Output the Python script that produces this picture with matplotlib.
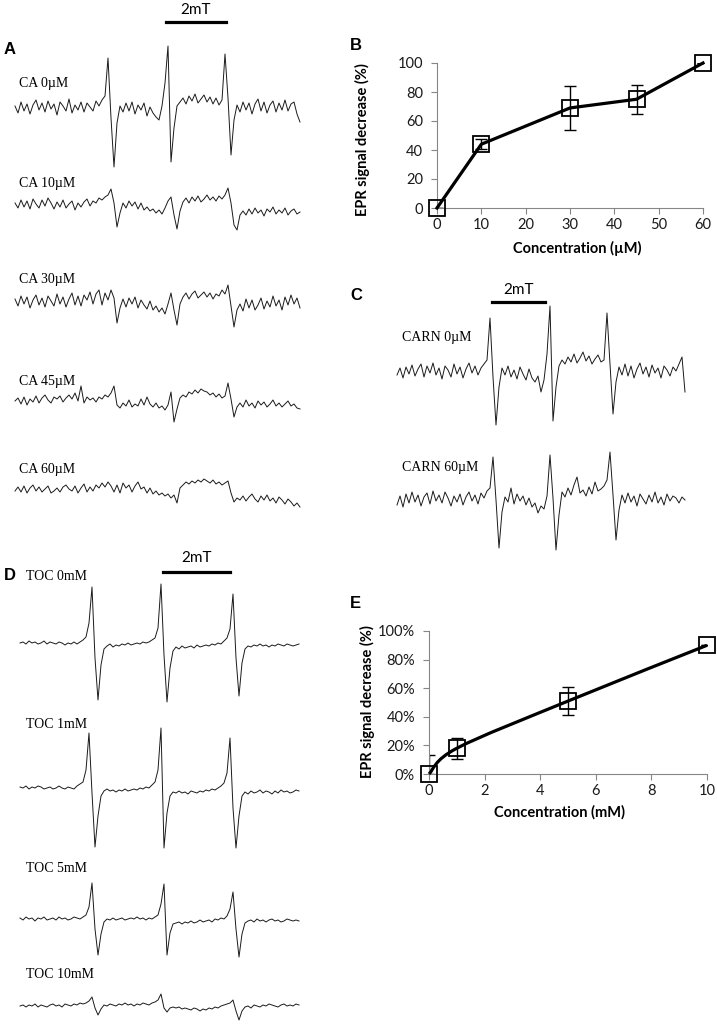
import numpy as np
import matplotlib
matplotlib.use('Agg')
import matplotlib.pyplot as plt
from matplotlib.path import Path
from matplotlib.patches import PathPatch
from matplotlib.ticker import PercentFormatter

plt.rcParams.update({
    'font.family': 'Lato',
    'font.size': 10,
})

W, H = 717, 1026

# ---- EPR traces (amplitude, ~3 px per sample, + = up) ----
ca_0 = [2, -5, 6, -3, 4, -6, 3, 8, -2, 5, -4, 7, -1, 4, -7, 6, 2, -3, 9, -5, 3, -2, 6, -4, 5, 1, -3, 7, 2, 8, 12,
        50, -10, -59, -15,
        2, -4, 5, -3, 6, -6, 3, -2, 5, -8, 1, -5, -9, -12, 2,
        25, 62, -54, -20,
        2, 6, 10, 4, 12, 7, 14, 5, 9, 13, 6, 11, 4, 10, 3, 8,
        54, 10, -47, -12,
        3, -4, 6, -2, 5, -6, 4, 9, -3, 6, -5, 3, 7, -4, 5, -2, 8, -3, 4, 6, -6, -14]
ca_10 = [2, -3, 5, -2, 4, -4, 6, 1, -3, 5, -1, 7, 2, -4, 3, -2, 5, -3, 1, 4, -5, 2, -2, 3, 6, -1, 4, 2, 7, 5, 8,
         10, 16, 2, -22, -8,
         2, -3, 4, -1, 3, -4, 2, -5, -2, -6, -4, -8, -5, -9, -3,
         4, 8, -10, -24, -6,
         3, 7, 2, 8, 4, 9, 3, 6, 10, 5, 8, 4, 9, 6,
         10, 17, 2, -20, -25, -10,
         -6, -10, -4, -9, -3, -8, -5, -11, -4, -7, -2, -9, -5, -8, -3, -10, -6, -4, -9, -7]
ca_30 = [3, -4, 6, -2, 5, -6, 2, 7, -3, 4, -5, 6, 1, -4, 8, -2, 5, -5, 3, 9, -3, 6, -4, 7, 2, 10, -2, 8, 12, -3, 9,
         2, 12, 4, -21, -6,
         3, -5, 4, -2, 5, -6, 2, -3, -7, 1, -8, -4, -10, -6, -12, -2,
         9, -8, -23, -2,
         5, 9, 3, 8, 11, 4, 7, 10, 5, 9, 3, 8, 6, 12,
         8, 17, -4, -25, -8,
         -2, -9, 3, -6, 2, -8, -3, 4, -7, 1, -5, 6, -4, 2, -8, 5, -3, 7, -2, 4, -6]
ca_45 = [0, 3, -3, 4, -4, 2, -1, 5, -2, 3, 6, 1, -2, 4, 2, 5, -1, 3, 6, 2, 8, 0, 15, -2, 4, 1, 3, -1, 4, 2, 6,
         4, 8, 15, -4, -7,
         -2, -5, 1, -6, -3, -5, 2, -4, 4, -3, -6, -2, -7, -5, -9, -4,
         9, -21, -8, 3,
         6, 4, 9, 7, 11, 8, 12, 10, 9, 6, 8, 4, 7, 3, 5,
         18, 2, -16, -6,
         -2, -6, 1, -5, -2, -7, 0, -4, -1, -6, -3, 1, -5, -2, -6, -3, 0, -5, -3, -7, -8]
ca_60 = [-1, 3, -2, 4, -3, 2, 5, -1, 3, -2, 1, 4, -3, -1, 2, -2, 3, 5, 1, -1, 4, -3, 2, 6, -2, 3, -1, 5, 2, 7, 3,
         8, 4, -2, 5, -3,
         7, 2, 5, -2, 4, 8, 1, 3, -3, 2, -4, -1, -5, -3, -6, -4, -8,
         -5, -13, 2,
         5, 8, 6, 9, 7, 10, 8, 11, 9, 7, 10, 6, 8, 5, 7, 9,
         -3, -12,
         -8, -10, -6, -11, -7, -4, -9, -12, -6, -10, -5, -11, -8, -13, -7, -10, -14, -9, -12, -16, -13, -17]

carn_0 = [-3, 4, -6, 5, -2, 7, -4, 3, 8, -5, 6, -1, 9, -3, 4, -7, 6, 2, -5, 8, -2, 5, -6, 3, 9, -1, 6, -3, 4, 8, 12,
          54, -5, -53, -15,
          4, -3, 6, -5, 2, -7, 5, -2, -8, 3, -6, -10, -4, -20, -8,
          18, 66, -49, -15,
          6, 12, 8, 15, 10, 18, 9, 14, 20, 11, 16, 8, 13, 17, 10, 12,
          59, 8, -42, -10,
          5, -3, 8, -4, 6, -6, 3, 9, -2, 5, -5, 7, -1, 4, -6, 6, 2, -4, 5, 1, 8, 15, -20]
carn_60 = [-5, 4, -7, 6, -3, 8, -2, 5, -6, 3, 7, -4, 9, -1, 5, -3, 8, 2, -6, 4, -2, 6, -5, 3, 8, -1, 5, -4, 7, 2, 9, 12,
           43, 0, -48, -12,
           3, -2, 12, -4, 6, -1, 4, -5, 2, -7, -3, -13, -6, -9, 4,
           45, 2, -50, -15,
           8, 3, 12, 5, 15, 23, 7, 10, 4, 13, 6, 18, 9, 11, 14, 20,
           48, 5, -40, -10,
           5, -3, 7, -2, 4, -6, 6, 1, -4, 5, -2, 8, -3, 3, -5, 6, -1, 4, 2, -3, 3, 0]

toc_0 = [0, 1, -1, 2, 0, 1, -1, 0, 2, -1, 1, 0, -1, 1, 0, -2, 0, -1, 1, -1, 1, 3,
         6, 20, 56, -15, -57, -22, -6,
         -3, -1, -4, -2, -3, -1, -2, 0, -2, -1, 0, -1, 1, 0, 1, 3,
         5, 15, 59, -12, -59, -25, -8,
         -4, -6, -3, -5, -4, -3, -5, -2, -4, -3, -2, -3, -1, -2, 0, -1, 2,
         5, 14, 49, -15, -53, -20, -6,
         -3, -4, -2, -3, -1, -3, -2, -4, -2, -3, -1, -2, -3, -1, -2, -3, -2, -1]
toc_1 = [1, 0, 2, -1, 1, 0, 2, 1, -1, 0, 1, -1, 0, 2, 0, -1, 1, 0, -1, 2, 4,
         6, 18, 55, -5, -59, -28, -8,
         -3, -1, -3, -2, -4, -2, -3, -1, -3, -2, -1, -2, 0, -1, 1, 0, 3,
         6, 18, 60, -60, -25, -8,
         -4, -5, -3, -5, -4, -6, -3, -4, -5, -3, -4, -2, -3, -1, -2, 0, 2,
         5, 15, 50, -20, -60, -28, -8,
         -4, -6, -3, -5, -4, -2, -5, -3, -4, -6, -3, -5, -2, -4, -3, -5, -4, -2, -3]
toc_5 = [1, -1, 2, 0, 1, -2, 1, 0, 2, -1, 0, 1, -1, 2, 0, 1, -1, 0, 2, 1, 0, 2,
         4, 12, 36, -10, -36, -15, -3,
         0, -1, 1, -1, 0, 1, -1, 0, 1, 0, 2, 0, 1, -1, 1, 0, 2,
         4, 15, 35, -36, -14, -5,
         -4, -3, -5, -3, -4, -2, -4, -3, -1, -3, -2, -1, -3, 0, -1, 1, 0,
         3, 10, 27, -10, -38, -15, -4,
         -2, -1, -3, 0, -2, -1, -3, -1, 0, -2, -1, -3, -2, 0, -1, -2, -1, -2]
toc_10 = [0, 1, -1, 1, 0, 2, -1, 1, 0, -1, 1, 2, 0, 1, -1, 2, 1, 0, 2, 1, 3, 2, 3,
          5, 9, -2, -9, -3,
          1, 0, 2, 1, 0, 2, 1, 3, 1, 2, 0, 2, 1, 3, 2, 1, 3, 4,
          6, 12, -2, -6, -2,
          -1, -2, -1, -3, -2, -3, -4, -2, -3, -5, -3, -4, -2, -3, -1, -2, 0, 1, 2,
          3, 6, -5, -14, -5,
          -1, 0, -2, 1, 0, -1, 1, 0, 2, 1, 0, -1, 1, 2, 0, 1, 0, 2, 1]

ca_labels = ['CA 0\u00b5M', 'CA 10\u00b5M', 'CA 30\u00b5M', 'CA 45\u00b5M', 'CA 60\u00b5M']
carn_labels = ['CARN 0\u00b5M', 'CARN 60\u00b5M']
toc_labels = ['TOC 0mM', 'TOC 1mM', 'TOC 5mM', 'TOC 10mM']

# ---- dose-response data ----
b_conc = [0, 10, 30, 45, 60]
b_decr = [0, 44, 69, 75, 100]
b_err_lo = [0, 3.5, 15, 10, 0]
b_err_hi = [0, 3.5, 15, 10, 0]

e_conc = [0, 1, 5, 10]
e_decr = [0.0, 0.18, 0.51, 0.90]
e_err_lo = [0.0, 0.075, 0.10, 0.0]
e_err_hi = [0.13, 0.075, 0.10, 0.0]

fig = plt.figure(figsize=(W / 100, H / 100), dpi=100)


def fx(x):
    return x / W


def fy(y):
    return 1 - y / H


def trace(vals, x0, x1, base, label, lx, ly):
    h = 180
    ax = fig.add_axes([fx(x0), fy(base + h / 2), (x1 - x0) / W, h / H])
    ax.plot(np.arange(len(vals)), vals, color='#1a1a1a', lw=0.7, clip_on=False)
    ax.set_xlim(0, len(vals) - 1)
    ax.set_ylim(-h / 2, h / 2)
    ax.axis('off')
    fig.text(fx(lx), fy(ly), label, family='Liberation Serif', fontsize=10,
             ha='left', va='center')


def scale_bar(x0, x1, y, ty):
    fig.add_artist(plt.Line2D([fx(x0), fx(x1)], [fy(y), fy(y)], color='black', lw=2.3))
    fig.text(fx((x0 + x1) / 2), fy(ty), '2mT', fontsize=11, ha='center', va='center')


def letter(s, x, y):
    fig.text(fx(x), fy(y), s, family='Liberation Sans', fontweight='bold',
             fontsize=12, ha='left', va='center')


# panel A
letter('A', 4, 50)
scale_bar(166, 226, 22, 10)
for vals, lab, base, ly in zip([ca_0, ca_10, ca_30, ca_45, ca_60], ca_labels,
                               [108, 205, 302, 401, 490], [83, 184, 280, 381, 470]):
    trace(vals, 15, 300, base, lab, 19, ly)

# panel C
letter('C', 350, 296)
scale_bar(492, 545, 302, 290)
for vals, lab, base, ly in zip([carn_0, carn_60], carn_labels, [372, 500], [337, 467]):
    trace(vals, 397, 685, base, lab, 402, ly)

# panel D
letter('D', 4, 575)
scale_bar(163, 230, 572, 558)
for vals, lab, base, ly in zip([toc_0, toc_1, toc_5, toc_10], toc_labels,
                               [643, 788, 919, 1006], [577, 725, 868, 975]):
    trace(vals, 20, 299, base, lab, 26, ly)


def style_axes(ax):
    for s in ['top', 'right']:
        ax.spines[s].set_visible(False)
    for s in ['left', 'bottom']:
        ax.spines[s].set_color('#868686')
        ax.spines[s].set_linewidth(0.8)
    ax.tick_params(direction='out', length=4, width=0.8, color='#868686',
                   labelsize=10.5, labelcolor='#1a1a1a', pad=3)
    ax.tick_params(axis='y', pad=6)


# panel B
letter('B', 350, 45)
axb = fig.add_axes([fx(437), fy(208), (703 - 437) / W, (208 - 63) / H])
axb.errorbar(b_conc, b_decr, yerr=[b_err_lo, b_err_hi], fmt='none', ecolor='black',
             elinewidth=1, capsize=4, capthick=1, zorder=2)
axb.plot(b_conc, b_decr, color='black', lw=2.3, zorder=3, clip_on=False)
axb.plot(b_conc, b_decr, 's', ms=11, mfc='none', mec='black', mew=1.3, zorder=4, clip_on=False)
axb.set_xlim(0, 60)
axb.set_ylim(0, 100)
axb.set_xticks(range(0, 61, 10))
axb.set_yticks(range(0, 101, 20))
style_axes(axb)
fig.text(fx(577), fy(248), 'Concentration (\u00b5M)', fontweight='bold', fontsize=10.5,
         ha='center', va='center')
fig.text(fx(362), fy(140), 'EPR signal decrease (%)', fontweight='bold', fontsize=10.5,
         ha='center', va='center', rotation=90)


# panel E
def smooth_path(xs, ys, sx, sy):
    P = np.column_stack([np.asarray(xs, float) * sx, np.asarray(ys, float) * sy])
    n = len(P)
    verts = [P[0]]
    codes = [Path.MOVETO]
    for i in range(n - 1):
        p0 = P[i - 1] if i > 0 else P[i]
        p1, p2 = P[i], P[i + 1]
        p3 = P[i + 2] if i + 2 < n else P[i + 1]
        verts += [p1 + (p2 - p0) / 6, p2 - (p3 - p1) / 6, p2]
        codes += [Path.CURVE4] * 3
    return Path(np.array(verts) / [sx, sy], codes)


letter('E', 350, 603)
e_left, e_right, e_top, e_bot = 429, 707, 631, 774
axe = fig.add_axes([fx(e_left), fy(e_bot), (e_right - e_left) / W, (e_bot - e_top) / H])
axe.errorbar(e_conc, e_decr, yerr=[e_err_lo, e_err_hi], fmt='none', ecolor='black',
             elinewidth=1, capsize=4, capthick=1, zorder=2)
path = smooth_path(e_conc, e_decr, (e_right - e_left) / 10, (e_bot - e_top) / 1.0)
axe.add_patch(PathPatch(path, facecolor='none', edgecolor='black', lw=2.3, zorder=3,
                        clip_on=False))
axe.plot(e_conc, e_decr, 's', ms=11, mfc='none', mec='black', mew=1.3, zorder=4, clip_on=False)
axe.set_xlim(0, 10)
axe.set_ylim(0, 1)
axe.set_xticks(range(0, 11, 2))
axe.set_yticks(np.arange(0, 1.01, 0.2))
axe.yaxis.set_major_formatter(PercentFormatter(1.0, decimals=0))
style_axes(axe)
fig.text(fx(560), fy(812), 'Concentration (mM)', fontweight='bold', fontsize=10.5,
         ha='center', va='center')
fig.text(fx(367), fy(702), 'EPR signal decrease (%)', fontweight='bold', fontsize=10.5,
         ha='center', va='center', rotation=90)

fig.savefig('out.png', dpi=100)
